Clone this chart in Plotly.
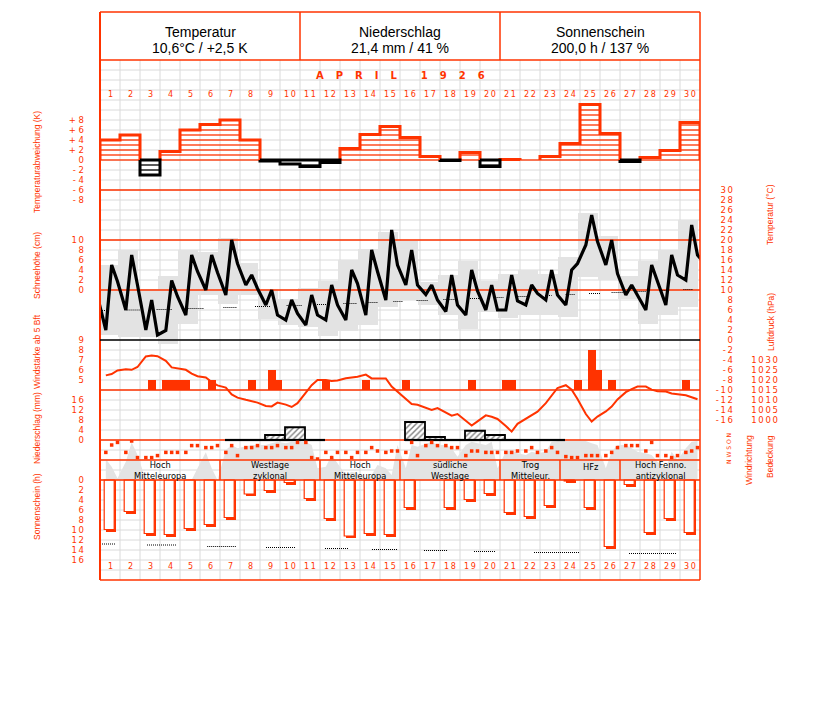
import plotly.graph_objects as go

# ---------------- data ----------------
days = list(range(1, 31))
obs_hours = [7, 14, 21]

header_titles = ["Temperatur", "Niederschlag", "Sonnenschein"]
header_values = ["10,6°C / +2,5 K", "21,4 mm / 41 %", "200,0 h / 137 %"]
month_title = ["A", "P", "R", "I", "L", "1", "9", "2", "6"]

temp_anomaly = [4.0, 5.0, -3.0, 1.7, 6.0, 7.1, 8.0, 4.0, -0.2, -0.8,
                -1.3, -0.5, 2.3, 5.1, 6.7, 4.5, 0.7, -0.1, 1.5, -1.3,
                0.1, 0.0, 0.7, 3.3, 11.1, 5.3, -0.3, 0.5, 1.9, 7.5]

# thrice daily temperature (7, 14, 21 h)
temp_obs = [2.0, 15.0, 11.7, 6.0, 17.0, 11.0, 2.0, 8.0, 1.0, 1.9, 11.9, 8.7,
            5.0, 17.0, 13.7, 10.0, 17.0, 13.5, 9.0, 20.0, 15.3, 11.0, 13.0, 10.3,
            7.0, 10.0, 5.0, 4.0, 8.0, 5.3, 3.0, 9.0, 5.0, 4.0, 11.0, 7.0,
            4.0, 14.0, 11.3, 5.0, 18.0, 13.7, 8.0, 22.0, 15.0, 11.0, 18.0, 11.0,
            9.1, 11.0, 8.0, 5.7, 13.0, 7.0, 5.0, 14.0, 9.8, 6.0, 11.0, 6.0,
            6.0, 13.0, 7.8, 7.0, 11.0, 9.3, 8.0, 14.0, 9.0, 7.0, 14.0, 15.3,
            19.0, 25.0, 19.7, 15.0, 20.0, 13.3, 9.0, 11.0, 9.0, 6.0, 15.0, 11.7,
            7.0, 17.0, 13.0, 12.0, 23.0, 17.0]
temp_prev_evening = 8.7   # 31 March, 21 h
temp_next_morning = 15.0  # 1 May, 7 h

temp_max = [15.0, 18.0, 10.3, 12.9, 18.0, 17.7, 20.5, 15.5, 10.3, 8.3,
            10.5, 11.9, 16.0, 18.3, 21.7, 19.8, 11.7, 13.0, 15.8, 11.9,
            13.3, 14.0, 13.3, 16.7, 25.5, 20.9, 12.9, 15.8, 18.0, 24.0]
temp_min = [1.0, 0.7, 0.7, -0.7, 3.3, 9.0, 7.3, 9.0, 4.3, 3.1,
            2.7, 0.9, 1.9, 3.1, 6.7, 8.0, 7.0, 5.1, 2.3, 5.7,
            4.5, 5.0, 5.0, 4.7, 12.7, 12.0, 8.3, 3.3, 5.0, 6.7]

# normal temperature (dotted), drawn as pieces
norm_from = [0.5, 1.83, 3.33, 4.92, 6.67, 8.25, 9.83, 11.25, 12.67, 13.92, 15.17, 16.33,
             17.67, 19.0, 20.33, 21.42, 22.75, 23.78, 24.95, 26.08, 27.33, 28.58, 29.67]
norm_to = [0.85, 2.5, 4.08, 5.67, 7.37, 9.0, 10.58, 11.83, 13.33, 14.42, 15.67, 16.92,
           18.25, 19.5, 20.67, 21.92, 23.08, 24.28, 25.5, 26.67, 27.83, 28.83, 30.17]
norm_temp = [5.9, 6.0, 6.1, 6.3, 6.5, 6.7, 6.9, 7.1, 7.3, 7.5, 7.7, 7.9,
             8.1, 8.3, 8.5, 8.7, 8.9, 9.1, 9.3, 9.5, 9.7, 9.9, 10.1]
temp_ref_lines = [10, 20, 30]

snow_depth = [0] * 30

# pressure, thrice daily (hPa)
pressure = [1022.3, 1023.0, 1024.8, 1025.4, 1025.1, 1026.5, 1031.8, 1032.2, 1031.9,
            1029.6, 1026.3, 1025.9, 1025.1, 1023.2, 1021.9, 1021.3, 1019.0, 1017.3,
            1016.2, 1012.8, 1011.2, 1010.1, 1009.5, 1008.7, 1007.0, 1006.8, 1008.7,
            1007.7, 1006.5, 1008.4, 1013.7, 1017.4, 1020.0, 1020.0, 1019.5, 1019.8,
            1020.9, 1021.2, 1021.6, 1022.7, 1020.8, 1020.8, 1020.8, 1016.7, 1014.3,
            1010.6, 1008.0, 1007.6, 1006.2, 1005.0, 1006.0, 1004.0, 1002.2, 1003.0,
            999.8, 997.2, 999.3, 1002.3, 1001.6, 1000.5, 997.0, 994.2, 998.1,
            1000.5, 1002.2, 1004.2, 1008.4, 1012.3, 1016.0, 1017.4, 1015.1, 1010.5,
            1003.0, 999.2, 1001.7, 1004.3, 1006.7, 1010.3, 1013.9, 1015.4, 1016.7,
            1016.7, 1015.2, 1014.4, 1014.2, 1013.3, 1013.0, 1012.4, 1011.4, 1010.4]

# wind force >= 5 Bft observations
wind_day = [3, 4, 4, 4, 5, 6, 8, 9, 9, 12, 14, 16, 19, 21, 21, 24, 25, 25, 26, 30]
wind_hour = [14, 7, 14, 21, 7, 14, 14, 14, 21, 7, 7, 7, 14, 7, 14, 21, 14, 21, 14, 7]
wind_bft = [5, 5, 5, 5, 5, 5, 5, 6, 5, 5, 5, 5, 5, 5, 5, 5, 8, 6, 5, 5]

# precipitation (mm)
precip = [0, 0, 0, 0, 0, 0, 0, 0, 2.0, 5.1, 0, 0, 0, 0, 0,
          7.2, 1.2, 0, 3.7, 2.0, 0, 0, 0, 0, 0, 0, 0, 0, 0, 0]
precip_trace_days = [7, 8, 11, 17, 18, 21, 22, 23]

# cloud cover (tenths), thrice daily
cloud = [3.8, 7.5, 8.8, 3.8, 9.5, 1.2, 1.2, 1.2, 2.2, 3.8, 3.8, 3.8, 3.8, 7.2, 7.2,
         6.2, 6.2, 7.2, 3.8, 7.2, 2.2, 6.2, 6.2, 7.2, 6.2, 6.2, 7.2, 6.2, 6.2, 8.8,
         8.8, 1.2, 0.5, 3.8, 1.2, 3.8, 3.8, 1.2, 3.8, 3.8, 6.2, 4.5, 3.8, 4.5, 4.5,
         3.8, 8.8, 2.2, 7.2, 8.8, 7.2, 7.2, 6.2, 6.2, 2.2, 4.5, 4.5, 3.8, 3.8, 3.8,
         3.8, 3.8, 4.5, 4.5, 6.2, 3.8, 4.5, 6.2, 3.8, 1.7, 1.2, 1.2, 2.2, 2.2, 2.2,
         2.2, 3.8, 6.2, 7.2, 7.2, 7.2, 4.5, 8.8, 2.2, 2.2, 1.2, 2.2, 3.8, 4.5, 6.2]

# wind direction (degrees), thrice daily
wind_dir = [189, 120, 15, 165, 339, 225, 0, 0, 0, 0, 0, 0, 0, 0, 105,
            249, 105, 0, 270, 315, 285, 300, 315, 315, 315, 330, 345, 330, 345, 339,
            345, 315, 105, 120, 225, 150, 45, 75, 60, 0, 45, 135, 105, 45, 315,
            105, 315, 300, 330, 345, 315, 315, 285, 210, 315, 345, 330, 315, 345, 105,
            255, 270, 240, 225, 255, 240, 255, 345, 351, 351, 351, 351, 351, 330, 315,
            105, 255, 315, 315, 285, 255, 240, 225, 165, 105, 255, 180, 285, 345, 351]

# sunshine (h)
sunshine = [9.9, 6.3, 10.7, 10.9, 9.7, 8.9, 7.5, 2.8, 2.1, 0.5,
            3.7, 7.7, 11.2, 10.7, 10.9, 5.5, 0.0, 5.5, 3.9, 2.7,
            6.5, 7.3, 5.1, 0.2, 5.5, 13.3, 0.9, 10.5, 7.7, 10.5]
sun_norm_from = [0.5, 2.85, 5.86, 8.8, 11.75, 14.1, 16.7, 19.2, 22.2, 26.95]
sun_norm_to = [1.3, 4.3, 7.3, 10.3, 12.9, 15.4, 17.9, 20.3, 24.5, 29.3]
sun_norm = [12.8, 13.0, 13.3, 13.5, 13.7, 13.9, 14.1, 14.3, 14.5, 14.7]

weather_line1 = ["Hoch", "Westlage", "Hoch", "südliche", "Trog", "HFz", "Hoch Fenno."]
weather_line2 = ["Mitteleuropa", "zyklonal", "Mitteleuropa", "Westlage", "Mitteleur.", "", "antizyklonal"]
wt_start = [1, 7, 12, 16, 21, 24, 27]
wt_end = [6, 11, 15, 20, 23, 26, 30]

anomaly_ticks = [-8, -6, -4, -2, 0, 2, 4, 6, 8]
snow_ticks = [0, 2, 4, 6, 8, 10]
wind_ticks = [5, 6, 7, 8, 9]
precip_ticks = [0, 4, 8, 12, 16]
sun_ticks = [0, 2, 4, 6, 8, 10, 12, 14, 16]
temp_ticks = list(range(-16, 31, 2))
pressure_ticks = [1000, 1005, 1010, 1015, 1020, 1025, 1030]

# ---------------- style ----------------
RED = "#ff3300"
BLACK = "#000000"
GRAYFILL = "#e3e3e3"
GRID = "#dadada"
OFF = 8                      # page body margin
W, H = 827 - OFF, 702 - OFF  # figure size that fits the window
LEFT, RIGHT, TOP, BOTTOM = 100, 700, 12, 580
NUM_FONT = "DejaVu Sans"
TITLE_FONT = "Liberation Sans, Arial, sans-serif"


def fy(py):
    return 1 - (py - OFF) / H


def fx(px):
    return (px - OFF) / W


def spaced(s, sep="\u2009"):
    return sep.join(list(s))


def obs_x(d, h):
    return d - 0.5 + h / 24.0


fig = go.Figure()

# ---- wind direction (gray area) : yaxis y ----
wd_x = [obs_x(d, h) for d in days for h in obs_hours]
fig.add_trace(go.Scatter(x=wd_x, y=wind_dir, mode="lines", line=dict(width=0, color=GRAYFILL),
                         fill="tozeroy", fillcolor=GRAYFILL, xaxis="x", yaxis="y", hoverinfo="skip"))

# ---- temperature panel : y2 ----
fig.add_trace(go.Bar(x=[d - 0.125 for d in days], y=[a - b for a, b in zip(temp_max, temp_min)],
                     base=temp_min, width=1.0, marker=dict(color=GRAYFILL, line=dict(width=0)),
                     xaxis="x", yaxis="y2", hoverinfo="skip"))
rx, ry = [], []
for v in temp_ref_lines:
    rx += [0.5, 30.5, None]
    ry += [v, v, None]
fig.add_trace(go.Scatter(x=rx, y=ry, mode="lines", line=dict(color=RED, width=1.5),
                         xaxis="x", yaxis="y2", hoverinfo="skip"))
nx, ny = [], []
for a, b, v in zip(norm_from, norm_to, norm_temp):
    nx += [a, b, None]
    ny += [v, v, None]
fig.add_trace(go.Scatter(x=nx, y=ny, mode="lines", line=dict(color=BLACK, width=1.2, dash="1px,1px"),
                         xaxis="x", yaxis="y2", hoverinfo="skip"))
tx = [obs_x(0, 21)] + [obs_x(d, h) for d in days for h in obs_hours] + [obs_x(31, 7)]
ty = [temp_prev_evening] + temp_obs + [temp_next_morning]
fig.add_trace(go.Scatter(x=tx, y=ty, mode="lines", line=dict(color=BLACK, width=3.2),
                         xaxis="x", yaxis="y2", hoverinfo="skip"))

# ---- snow (none recorded) : y9 ----
fig.add_trace(go.Scatter(x=days, y=snow_depth, mode="none", xaxis="x", yaxis="y9", hoverinfo="skip"))

# ---- temperature anomaly : y3 ----
sx_r, sy_r, sx_b, sy_b = [], [], [], []
for d, v in zip(days, temp_anomaly):
    if v >= 0:
        for k in range(0, int(v) + 1):
            sx_r += [d - 0.5, d + 0.5, None]
            sy_r += [k, k, None]
    else:
        for k in range(1, int(-v) + 1):
            sx_b += [d - 0.5, d + 0.5, None]
            sy_b += [-k, -k, None]
fig.add_trace(go.Scatter(x=sx_r, y=sy_r, mode="lines", line=dict(color=RED, width=1.3),
                         xaxis="x", yaxis="y3", hoverinfo="skip"))
fig.add_trace(go.Scatter(x=sx_b, y=sy_b, mode="lines", line=dict(color=BLACK, width=1.3),
                         xaxis="x", yaxis="y3", hoverinfo="skip"))


def runs(cond):
    out, cur = [], []
    for d, v in zip(days, temp_anomaly):
        if cond(v):
            cur.append((d, v))
        elif cur:
            out.append(cur)
            cur = []
    if cur:
        out.append(cur)
    return out


px_, py_ = [], []
for run in runs(lambda v: v > 0):
    px_.append(run[0][0] - 0.5)
    py_.append(0)
    for d, v in run:
        px_ += [d - 0.5, d + 0.5]
        py_ += [v, v]
    px_ += [run[-1][0] + 0.5, None]
    py_ += [0, None]
fig.add_trace(go.Scatter(x=px_, y=py_, mode="lines", line=dict(color=RED, width=3),
                         xaxis="x", yaxis="y3", hoverinfo="skip"))
nx_, ny_ = [], []
for run in runs(lambda v: v < 0):
    nx_.append(run[0][0] - 0.5)
    ny_.append(0)
    for d, v in run:
        nx_ += [d - 0.5, d + 0.5]
        ny_ += [v, v]
    nx_ += [run[-1][0] + 0.5, run[0][0] - 0.5, None]
    ny_ += [0, 0, None]
fig.add_trace(go.Scatter(x=nx_, y=ny_, mode="lines", line=dict(color=BLACK, width=3),
                         xaxis="x", yaxis="y3", hoverinfo="skip"))

# ---- pressure : y4 ----
fig.add_trace(go.Scatter(x=[obs_x(d, h) for d in days for h in obs_hours], y=pressure, mode="lines",
                         line=dict(color=RED, width=2), xaxis="x", yaxis="y4", hoverinfo="skip"))

# ---- wind force : y5 ----
fig.add_trace(go.Bar(x=[obs_x(d, h) for d, h in zip(wind_day, wind_hour)], y=[b - 4 for b in wind_bft],
                     base=4, width=0.4, marker=dict(color=RED, line=dict(width=0)),
                     xaxis="x", yaxis="y5", hoverinfo="skip"))

# ---- precipitation : y6 ----
pdays = sorted(set(precip_trace_days + [d for d, p in zip(days, precip) if p > 0]))
lx, ly = [], []
for d in pdays:
    lx += [d - 0.25, d + 0.75, None]
    ly += [0, 0, None]
fig.add_trace(go.Scatter(x=lx, y=ly, mode="lines", line=dict(color=BLACK, width=2.2),
                         xaxis="x", yaxis="y6", hoverinfo="skip"))
rd = [(d, p) for d, p in zip(days, precip) if p > 0]
fig.add_trace(go.Bar(x=[d + 0.25 for d, p in rd], y=[p for d, p in rd], width=1.0,
                     marker=dict(color="white", line=dict(color=BLACK, width=1.8),
                                 pattern=dict(shape="/", fgcolor=BLACK, bgcolor="white", size=4, solidity=0.35)),
                     xaxis="x", yaxis="y6", hoverinfo="skip"))

# ---- cloud cover : y7 ----
fig.add_trace(go.Scatter(x=[obs_x(d, h) for d in days for h in obs_hours], y=cloud, mode="markers",
                         marker=dict(symbol="square", size=3.5, color=RED, line=dict(width=0)),
                         xaxis="x", yaxis="y7", hoverinfo="skip"))

# ---- sunshine : y8 ----
sd = [(d, s) for d, s in zip(days, sunshine) if s > 0]
fig.add_trace(go.Bar(x=[d + 0.06 for d, s in sd], y=[s + 0.45 for d, s in sd], width=0.5,
                     marker=dict(color=RED, line=dict(width=0)), xaxis="x", yaxis="y8", hoverinfo="skip"))
fig.add_trace(go.Bar(x=[d - 0.04 for d, s in sd], y=[s for d, s in sd], width=0.5,
                     marker=dict(color="white", line=dict(color=RED, width=1.2)),
                     xaxis="x", yaxis="y8", hoverinfo="skip"))
snx, sny = [], []
for a, b, v in zip(sun_norm_from, sun_norm_to, sun_norm):
    snx += [a, b, None]
    sny += [v, v, None]
fig.add_trace(go.Scatter(x=snx, y=sny, mode="lines", line=dict(color=BLACK, width=1.2, dash="1px,1px"),
                         xaxis="x", yaxis="y8", hoverinfo="skip"))


# ---------------- axes ----------------
def yax(top, bot, rng, ticks=None, texts=None, pos=None):
    d = dict(domain=[fy(bot), fy(top)], range=rng, showgrid=False, zeroline=False,
             showline=False, fixedrange=True)
    if ticks is None:
        d.update(visible=False, anchor="x")
    else:
        d.update(anchor="free", position=fx(pos), side="left", tickmode="array",
                 tickvals=ticks, ticktext=texts, ticks="",
                 tickfont=dict(family=NUM_FONT, size=8.5, color=RED))
    return d


def signed(v):
    if v > 0:
        return "+ " + spaced(str(v))
    if v < 0:
        return "- " + spaced(str(-v))
    return "0"


layout_axes = dict(
    xaxis=dict(domain=[fx(LEFT), fx(RIGHT)], range=[0.5, 30.5], visible=False, anchor="y", fixedrange=True),
    yaxis=yax(440, 480, [0, 360]),
    yaxis2=yax(185, 425, [-17, 31], temp_ticks, [spaced(str(v)) for v in temp_ticks], 733),
    yaxis3=yax(95, 205, [-9, 13], anomaly_ticks, [signed(v) for v in anomaly_ticks], 84),
    yaxis4=yax(340, 440, [990, 1040], pressure_ticks, [spaced(str(v)) for v in pressure_ticks], 778),
    yaxis5=yax(335, 390, [4, 9.5], wind_ticks, [str(v) for v in wind_ticks], 84),
    yaxis6=yax(395, 445, [-2, 18], precip_ticks, [spaced(str(v)) for v in precip_ticks], 84),
    yaxis7=yax(440, 460, [0, 10]),
    yaxis8=yax(475, 565, [17, -1], sun_ticks, [spaced(str(v)) for v in sun_ticks], 84),
    yaxis9=yax(235, 295, [-1, 11], snow_ticks, [spaced(str(v)) for v in snow_ticks], 84),
)

# ---------------- shapes ----------------
shapes = []


def pline(x0, y0, x1, y1, color, width, layer="above"):
    shapes.append(dict(type="line", xref="paper", yref="paper", x0=fx(x0), x1=fx(x1),
                       y0=fy(y0), y1=fy(y1), line=dict(color=color, width=width), layer=layer))


for b in [d + 0.5 for d in days[:-1]]:
    shapes.append(dict(type="line", xref="x", yref="paper", x0=b, x1=b, y0=fy(60), y1=fy(BOTTOM),
                       line=dict(color=GRID, width=1), layer="below"))
for ypx in range(70, BOTTOM, 10):
    pline(LEFT, ypx, RIGHT, ypx, GRID, 1, "below")

# frame and panel lines
pline(LEFT, TOP, RIGHT, TOP, RED, 1.5)
pline(LEFT, BOTTOM, RIGHT, BOTTOM, RED, 1.5)
pline(LEFT, TOP, LEFT, BOTTOM, RED, 2)
pline(RIGHT, TOP, RIGHT, BOTTOM, RED, 1.5)
pline(LEFT, 60, RIGHT, 60, RED, 1.5)
pline(300, TOP, 300, 60, RED, 1.5)
pline(500, TOP, 500, 60, RED, 1.5)
shapes.append(dict(type="line", xref="paper", yref="y2", x0=fx(LEFT), x1=fx(RIGHT), y0=0, y1=0,
                   line=dict(color=BLACK, width=1.5), layer="above"))
shapes.append(dict(type="line", xref="paper", yref="y4", x0=fx(LEFT), x1=fx(RIGHT), y0=1015, y1=1015,
                   line=dict(color=RED, width=1.5), layer="above"))
shapes.append(dict(type="line", xref="paper", yref="y6", x0=fx(LEFT), x1=fx(RIGHT), y0=0, y1=0,
                   line=dict(color=RED, width=1.5), layer="below"))
pline(LEFT, 460, RIGHT, 460, RED, 1.5)
pline(LEFT, 480, RIGHT, 480, RED, 1.5)
for s in wt_start[1:]:
    shapes.append(dict(type="line", xref="x", yref="paper", x0=s - 0.5, x1=s - 0.5, y0=fy(480), y1=fy(460),
                       line=dict(color=RED, width=1.5), layer="above"))

# ---------------- annotations ----------------
annotations = []


def ann(text, xpx, ypx, size=9, color=RED, family=NUM_FONT, angle=0, xref="paper"):
    annotations.append(dict(text=text, x=(xpx if xref == "x" else fx(xpx)), y=fy(ypx), xref=xref,
                            yref="paper", showarrow=False, textangle=angle,
                            font=dict(size=size, color=color, family=family),
                            xanchor="center", yanchor="middle", borderpad=0))


for i, (t, v) in enumerate(zip(header_titles, header_values)):
    ann(t, 200 + 200 * i, 32, 14, BLACK, "Liberation Sans, Arial, sans-serif")
    ann(v, 200 + 200 * i, 48, 14, BLACK, "Liberation Sans, Arial, sans-serif")

ann("<b>" + "\u2003\u2009".join(month_title[:5]) + "\u2003\u2003\u2009\u2009"
    + "\u2003\u2009".join(month_title[5:]) + "</b>", 400, 75, 10, RED, "DejaVu Sans, sans-serif")

for d in days:
    ann(spaced(str(d)), d, 95, 8, RED, NUM_FONT, xref="x")
    ann(spaced(str(d)), d, 566, 8, RED, NUM_FONT, xref="x")

for l1, l2, s, e in zip(weather_line1, weather_line2, wt_start, wt_end):
    if l2:
        ann(l1 + "<br>" + l2, (s + e) / 2, 470, 8.3, BLACK, NUM_FONT, xref="x")
    else:
        ann(l1, (s + e) / 2, 466.5, 8.3, BLACK, NUM_FONT, xref="x")

TS = 8.5
ann("Temperaturabweichung (K)", 37, 162, TS, RED, TITLE_FONT, -90)
ann("Schneehöhe (cm)", 37, 266, TS, RED, TITLE_FONT, -90)
ann("Windstärke ab 5 Bft", 37, 352, TS, RED, TITLE_FONT, -90)
ann("Niederschlag (mm)", 37, 428, TS, RED, TITLE_FONT, -90)
ann("Sonnenschein (h)", 37, 507, TS, RED, TITLE_FONT, -90)
ann("Temperatur (°C)", 770, 215, TS, RED, TITLE_FONT, -90)
ann("Luftdruck (hPa)", 771, 322, TS, RED, TITLE_FONT, -90)
ann("Windrichtung", 749, 460, TS, RED, TITLE_FONT, -90)
ann("Bedeckung", 770, 457, TS, RED, TITLE_FONT, -90)
ann("N W S O N", 728, 449, 6, RED, NUM_FONT, -90)

fig.update_layout(
    width=W, height=H, margin=dict(l=0, r=0, t=0, b=0), autosize=False,
    paper_bgcolor="white", plot_bgcolor="rgba(0,0,0,0)",
    showlegend=False, barmode="overlay", bargap=0, hovermode=False,
    shapes=shapes, annotations=annotations, **layout_axes,
)

fig.write_html("out.html", config={"displayModeBar": False, "staticPlot": True})
